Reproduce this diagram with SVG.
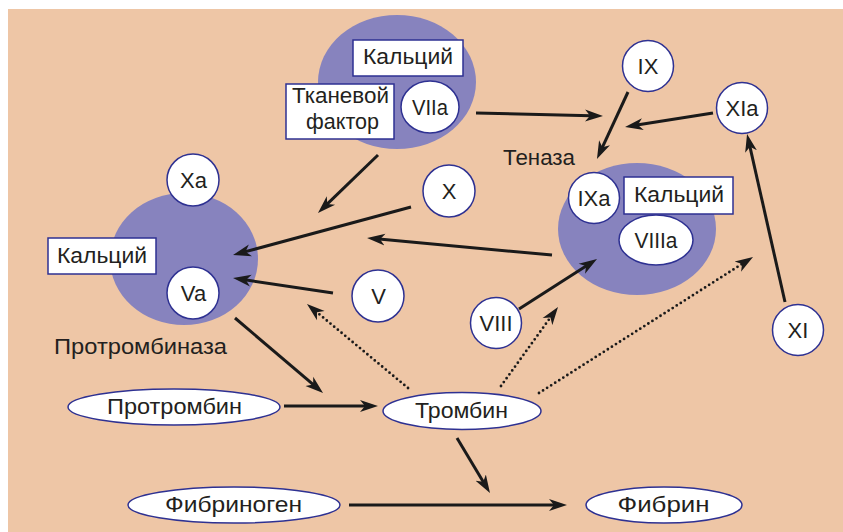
<svg xmlns="http://www.w3.org/2000/svg" width="843" height="532" viewBox="0 0 843 532">
<defs>
<marker id="ah" markerUnits="userSpaceOnUse" markerWidth="20" markerHeight="14" viewBox="0 0 20 14" refX="6" refY="7" orient="auto">
<path d="M0,1 L18,7 L0,13 L5,7 Z" fill="#1a1a1a"/>
</marker>
</defs>
<style>
.bg{fill:#EEC6A6}
.blob{fill:#8783BE}
.n{fill:#fff;stroke:#2E3192;stroke-width:1.5}
.t{font-family:"Liberation Sans",Arial,sans-serif;font-size:22px;fill:#231F20;text-anchor:middle}
.w{font-size:22px}
.lbl{font-family:"Liberation Sans",Arial,sans-serif;font-size:22px;fill:#231F20}
.a{stroke:#1a1a1a;stroke-width:3;fill:none;marker-end:url(#ah)}
.d{stroke:#1a1a1a;stroke-width:2.8;fill:none;stroke-linecap:round;stroke-dasharray:0 4.8;marker-end:url(#ah)}
</style>
<rect x="0" y="0" width="843" height="532" fill="#fff"/>
<rect class="bg" x="8" y="9" width="835" height="523"/>

<g id="complex-tf">
<ellipse class="blob" cx="397" cy="82" rx="79" ry="67"/>
</g>
<g id="prothrombinase">
<ellipse class="blob" cx="184" cy="259" rx="74" ry="66"/>
<text class="lbl" x="54" y="354" textLength="173" lengthAdjust="spacingAndGlyphs">Протромбиназа</text>
</g>
<g id="tenase">
<ellipse class="blob" cx="637" cy="229" rx="79" ry="66"/>
<text class="lbl" x="503" y="165" textLength="72" lengthAdjust="spacingAndGlyphs">Теназа</text>
</g>

<g id="connectors">
<line class="a" x1="378" y1="155" x2="326.6" y2="204.7"/>
<line class="a" x1="411" y1="207" x2="244.6" y2="251.9"/>
<line class="a" x1="552" y1="255" x2="379" y2="239.1"/>
<line class="a" x1="333" y1="293" x2="244.9" y2="279.8"/>
<line class="a" x1="235" y1="318" x2="313.9" y2="385.2"/>
<line class="a" x1="284" y1="406" x2="366" y2="406"/>
<line class="a" x1="457" y1="438" x2="483.8" y2="482.7"/>
<line class="a" x1="349" y1="505" x2="555" y2="505"/>
<line class="d" x1="408" y1="388" x2="316.2" y2="311.7"/>
<line class="d" x1="501" y1="386" x2="551" y2="316.7"/>
<line class="d" x1="539" y1="393" x2="742.9" y2="263.4"/>
<line class="a" x1="476" y1="113" x2="591" y2="115.7"/>
<line class="a" x1="628" y1="92" x2="602" y2="148.1"/>
<line class="a" x1="713" y1="113" x2="636.9" y2="125.1"/>
<line class="a" x1="785" y1="302" x2="749.7" y2="145.7"/>
<line class="a" x1="519" y1="309" x2="586.9" y2="265.5"/>
</g>

<g id="calcium-top">
<rect class="n" x="353" y="40" width="110" height="36"/>
<text class="t w" x="408" y="64" textLength="90" lengthAdjust="spacingAndGlyphs">Кальций</text>
</g>
<g id="tissue-factor">
<rect class="n" x="286" y="84" width="108" height="55"/>
<text class="t w" x="340.5" y="103" textLength="97" lengthAdjust="spacingAndGlyphs">Тканевой</text>
<text class="t w" x="342.5" y="129" textLength="73" lengthAdjust="spacingAndGlyphs">фактор</text>
</g>
<g id="VIIa">
<ellipse class="n" cx="430" cy="107" rx="29" ry="26"/>
<text class="t" x="430" y="115" textLength="36" lengthAdjust="spacingAndGlyphs">VIIa</text>
</g>
<g id="Xa">
<circle class="n" cx="193" cy="180" r="26"/>
<text class="t" x="193.5" y="188">Xa</text>
</g>
<g id="calcium-left">
<rect class="n" x="48" y="238" width="108" height="36"/>
<text class="t w" x="102" y="263" textLength="90" lengthAdjust="spacingAndGlyphs">Кальций</text>
</g>
<g id="Va">
<circle class="n" cx="193" cy="293" r="26"/>
<text class="t" x="193.5" y="301">Va</text>
</g>
<g id="X">
<circle class="n" cx="449" cy="191" r="26"/>
<text class="t" x="449" y="199">X</text>
</g>
<g id="V">
<circle class="n" cx="378" cy="296" r="26"/>
<text class="t" x="378.5" y="304">V</text>
</g>
<g id="IX">
<circle class="n" cx="648" cy="66" r="25.5"/>
<text class="t" x="648" y="74">IX</text>
</g>
<g id="XIa">
<circle class="n" cx="742" cy="108" r="25.5"/>
<text class="t" x="742" y="116">XIa</text>
</g>
<g id="XI">
<circle class="n" cx="798" cy="330" r="25.5"/>
<text class="t" x="798" y="338">XI</text>
</g>
<g id="IXa">
<circle class="n" cx="594" cy="198" r="25.5"/>
<text class="t" x="594" y="206">IXa</text>
</g>
<g id="calcium-right">
<rect class="n" x="624" y="177" width="109" height="37"/>
<text class="t w" x="679" y="202" textLength="90" lengthAdjust="spacingAndGlyphs">Кальций</text>
</g>
<g id="VIIIa">
<ellipse class="n" cx="656" cy="240" rx="37" ry="25"/>
<text class="t" x="656" y="248" textLength="43" lengthAdjust="spacingAndGlyphs">VIIIa</text>
</g>
<g id="VIII">
<circle class="n" cx="496" cy="323" r="25.5"/>
<text class="t" x="496" y="331" textLength="33" lengthAdjust="spacingAndGlyphs">VIII</text>
</g>
<g id="prothrombin">
<ellipse class="n" cx="174" cy="407" rx="106" ry="18"/>
<text class="t w" x="174.5" y="414" textLength="135" lengthAdjust="spacingAndGlyphs">Протромбин</text>
</g>
<g id="thrombin">
<ellipse class="n" cx="462" cy="411" rx="79" ry="18.5"/>
<text class="t w" x="461.5" y="418" textLength="93" lengthAdjust="spacingAndGlyphs">Тромбин</text>
</g>
<g id="fibrinogen">
<ellipse class="n" cx="234" cy="505" rx="106" ry="18"/>
<text class="t w" x="233.5" y="512" textLength="137" lengthAdjust="spacingAndGlyphs">Фибриноген</text>
</g>
<g id="fibrin">
<ellipse class="n" cx="664" cy="505" rx="78" ry="18"/>
<text class="t w" x="663.5" y="512" textLength="92" lengthAdjust="spacingAndGlyphs">Фибрин</text>
</g>
</svg>
